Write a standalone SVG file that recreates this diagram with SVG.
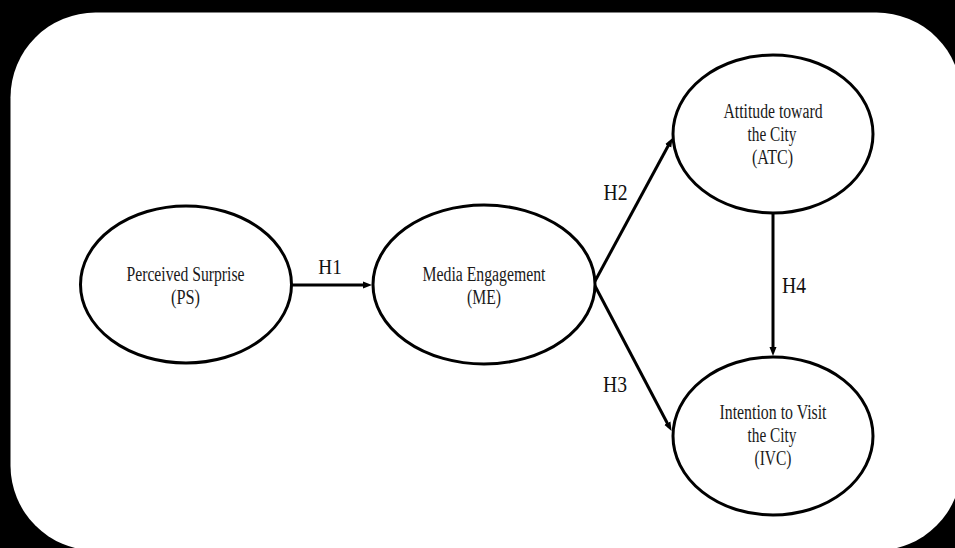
<svg xmlns="http://www.w3.org/2000/svg" width="955" height="548" viewBox="0 0 955 548">
  <defs>
    <marker id="arrow" markerUnits="userSpaceOnUse" markerWidth="10" markerHeight="8" refX="4" refY="4" orient="auto">
      <path d="M0,0.5 L9,4 L0,7.5 z" fill="#000"/>
    </marker>
    <style>
      .node ellipse { fill: #fff; stroke: #000; stroke-width: 3; }
      .node text { font-family: "Liberation Serif", "Times New Roman", serif; font-size: 20px; fill: #1a1a1a; text-anchor: middle; }
      .edges line { stroke: #000; stroke-width: 3; marker-end: url(#arrow); }
      .label { font-family: "Liberation Serif", "Times New Roman", serif; fill: #111; text-anchor: middle; }
    </style>
  </defs>

  <!-- backdrop and card -->
  <rect x="0" y="0" width="955" height="548" fill="#000"/>
  <rect x="10.5" y="12.5" width="951" height="538" rx="85" ry="85" fill="#fff"/>

  <!-- connectors -->
  <g id="edges" class="edges">
    <line x1="292" y1="285" x2="367" y2="285"/>
    <line x1="594" y1="283" x2="670.1" y2="142.3"/>
    <line x1="594" y1="284" x2="669.2" y2="426.7"/>
    <line x1="773" y1="213" x2="773" y2="351"/>
  </g>

  <!-- hypothesis labels -->
  <g id="labels">
    <text class="label" x="330" y="273.5" font-size="20" textLength="23.5" lengthAdjust="spacingAndGlyphs">H1</text>
    <text class="label" x="615.5" y="200" font-size="23" textLength="24" lengthAdjust="spacingAndGlyphs">H2</text>
    <text class="label" x="615" y="392" font-size="23" textLength="24" lengthAdjust="spacingAndGlyphs">H3</text>
    <text class="label" x="794" y="293" font-size="23" textLength="24" lengthAdjust="spacingAndGlyphs">H4</text>
  </g>

  <g id="ps" class="node">
    <ellipse cx="186" cy="284.5" rx="105.5" ry="78.5"/>
    <text x="185.5" y="281" textLength="118" lengthAdjust="spacingAndGlyphs">Perceived Surprise</text>
    <text x="185.5" y="303.5" textLength="29" lengthAdjust="spacingAndGlyphs">(PS)</text>
  </g>

  <g id="me" class="node">
    <ellipse cx="484" cy="284.5" rx="111" ry="79.5"/>
    <text x="484" y="281" textLength="123" lengthAdjust="spacingAndGlyphs">Media Engagement</text>
    <text x="484" y="303.5" textLength="34" lengthAdjust="spacingAndGlyphs">(ME)</text>
  </g>

  <g id="atc" class="node">
    <ellipse cx="773" cy="134" rx="100" ry="79"/>
    <text x="773" y="117.5" textLength="99" lengthAdjust="spacingAndGlyphs">Attitude toward</text>
    <text x="772" y="141" textLength="49" lengthAdjust="spacingAndGlyphs">the City</text>
    <text x="772.5" y="164" textLength="41" lengthAdjust="spacingAndGlyphs">(ATC)</text>
  </g>

  <g id="ivc" class="node">
    <ellipse cx="773" cy="436" rx="100" ry="79"/>
    <text x="773" y="418.5" textLength="107" lengthAdjust="spacingAndGlyphs">Intention to Visit</text>
    <text x="772" y="442" textLength="49" lengthAdjust="spacingAndGlyphs">the City</text>
    <text x="773" y="465" textLength="37" lengthAdjust="spacingAndGlyphs">(IVC)</text>
  </g>
</svg>
